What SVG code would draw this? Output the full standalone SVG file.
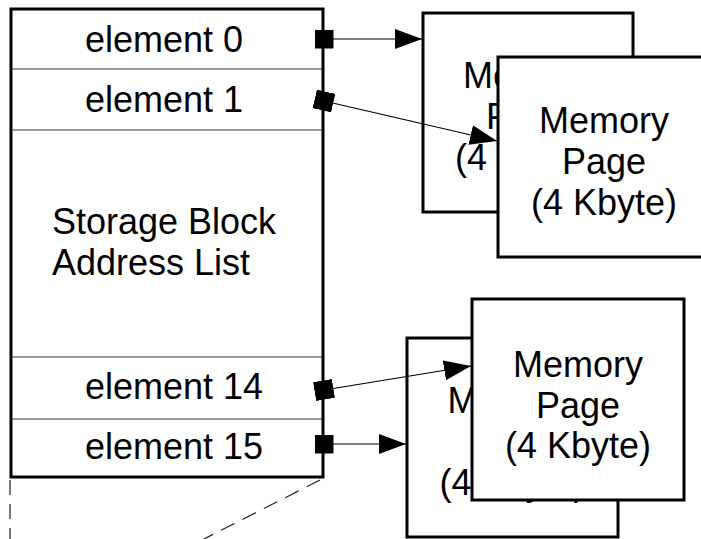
<svg xmlns="http://www.w3.org/2000/svg" width="701" height="539" viewBox="0 0 701 539">
  <style>
    .frame { fill: #fff; stroke: #000; stroke-width: 3; stroke-linejoin: miter; }
    .row { stroke: #333; stroke-width: 1.2; }
    .lbl { font-family: "Liberation Sans", Arial, sans-serif; font-size: 36px; fill: #000; }
    .mid { text-anchor: middle; }
    .link { fill: none; stroke: #000; stroke-width: 1.2; marker-start: url(#dot); marker-end: url(#tip); }
    .dash { fill: none; stroke: #222; stroke-width: 1.2; stroke-dasharray: 15 9; }
  </style>
  <defs>
    <marker id="tip" markerUnits="userSpaceOnUse" markerWidth="28" markerHeight="20" refX="27" refY="10" orient="auto">
      <path d="M0 0 L27 10 L0 20 Z" fill="#000"/>
    </marker>
    <marker id="dot" markerUnits="userSpaceOnUse" markerWidth="19" markerHeight="19" refX="9.5" refY="9.5" orient="auto">
      <rect x="0" y="0" width="19" height="19" fill="#000"/>
    </marker>
  </defs>

  <rect width="701" height="539" fill="#fff"/>

  <!-- address list table -->
  <g id="address-list">
    <rect class="frame" x="11" y="9" width="312" height="468"/>
    <line class="row" x1="12" y1="69" x2="322" y2="69"/>
    <line class="row" x1="12" y1="130" x2="322" y2="130"/>
    <line class="row" x1="12" y1="357" x2="322" y2="357"/>
    <line class="row" x1="12" y1="419" x2="322" y2="419"/>
    <text class="lbl" x="85" y="52">element 0</text>
    <text class="lbl" x="85" y="112">element 1</text>
    <text class="lbl" x="52" y="234">Storage Block</text>
    <text class="lbl" x="52" y="275">Address List</text>
    <text class="lbl" x="85" y="399">element 14</text>
    <text class="lbl" x="85" y="459">element 15</text>
  </g>

  <!-- upper pair of memory pages -->
  <g id="page-a">
    <rect class="frame" x="423" y="13" width="210" height="199"/>
    <text class="lbl mid" x="528" y="88">Memory</text>
    <text class="lbl mid" x="528" y="129">Page</text>
    <text class="lbl mid" x="528" y="170">(4 Kbyte)</text>
  </g>
  <g id="page-b">
    <rect class="frame" x="498" y="57" width="212" height="200"/>
    <text class="lbl mid" x="604" y="133">Memory</text>
    <text class="lbl mid" x="604" y="174">Page</text>
    <text class="lbl mid" x="604" y="215">(4 Kbyte)</text>
  </g>

  <!-- lower pair of memory pages -->
  <g id="page-c">
    <rect class="frame" x="407" y="338" width="211" height="199"/>
    <text class="lbl mid" x="512.5" y="413">Memory</text>
    <text class="lbl mid" x="512.5" y="454">Page</text>
    <text class="lbl mid" x="512.5" y="495">(4 Kbyte)</text>
  </g>
  <g id="page-d">
    <rect class="frame" x="472" y="299" width="212" height="201"/>
    <text class="lbl mid" x="578" y="377">Memory</text>
    <text class="lbl mid" x="578" y="418">Page</text>
    <text class="lbl mid" x="578" y="458">(4 Kbyte)</text>
  </g>

  <!-- pointers from list entries to pages -->
  <g id="connectors">
    <path class="link" d="M324 39 L422 39"/>
    <path class="link" d="M324 101 L497 141"/>
    <path class="link" d="M324 390 L471 366"/>
    <path class="link" d="M324 444 L406 444"/>
    <path class="dash" d="M10 480 L10 539"/>
    <path class="dash" d="M320 480 L204 539"/>
  </g>
</svg>
